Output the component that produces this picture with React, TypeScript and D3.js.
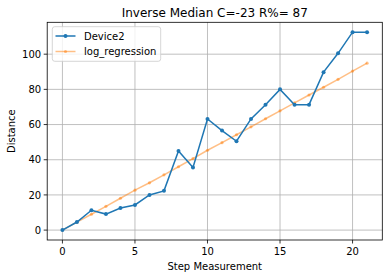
import React from "react";
import * as d3 from "d3";

const steps = [0, 1, 2, 3, 4, 5, 6, 7, 8, 9, 10, 11, 12, 13, 14, 15, 16, 17, 18, 19, 20, 21];
const device2 = [0, 4.6, 11.3, 9.1, 12.6, 14.3, 20, 22.3, 45, 35.6, 63.2, 56.6, 50.5, 63.2, 71.3, 80, 71.3, 71.3, 89.8, 100.5, 112.5, 112.5];
const logRegression = [0, 4.5, 9, 13.5, 18.1, 22.7, 26.9, 31.4, 36, 40.6, 45.4, 49.7, 54.2, 58.7, 63.3, 67.8, 72.3, 76.8, 81.2, 85.7, 90.4, 94.9];
const xTicks = [0, 5, 10, 15, 20];
const yTicks = [0, 20, 40, 60, 80, 100];
const seriesNames = ["Device2", "log_regression"];
const title = "Inverse Median C=-23 R%= 87";
const xLabel = "Step Measurement";
const yLabel = "Distance";

const W = 389, H = 278;
const L = 47.2, R = 382.3, T = 22.3, B = 240;
const font = "DejaVu Sans, sans-serif";

export default function App() {
  const xMin = d3.min(steps)!, xMax = d3.max(steps)!;
  const yMax = d3.max(device2.concat(logRegression))!, yMin = 0;
  const xPad = (xMax - xMin) * 0.05, yPad = (yMax - yMin) * 0.05;
  const x = d3.scaleLinear().domain([xMin - xPad, xMax + xPad]).range([L, R]);
  const y = d3.scaleLinear().domain([yMin - yPad, yMax + yPad]).range([B, T]);
  const line = d3.line<number>().x((_, i) => x(steps[i])).y((d) => y(d));
  const blue = "#1f77b4", orange = "#ff7f0e";
  return (
    <svg width={W} height={H} style={{ position: "absolute", left: 0, top: 0, background: "#fff" }} fontFamily={font}>
      <rect x={0} y={0} width={W} height={H} fill="#fff" />
      {xTicks.map((t) => (
        <line key={"gx" + t} x1={x(t)} x2={x(t)} y1={T} y2={B} stroke="#b0b0b0" strokeWidth={0.8} />
      ))}
      {yTicks.map((t) => (
        <line key={"gy" + t} x1={L} x2={R} y1={y(t)} y2={y(t)} stroke="#b0b0b0" strokeWidth={0.8} />
      ))}
      <path d={line(logRegression)!} fill="none" stroke={orange} strokeOpacity={0.5} strokeWidth={1.5} />
      {logRegression.map((v, i) => (
        <circle key={"o" + i} cx={x(steps[i])} cy={y(v)} r={1.6} fill={orange} fillOpacity={0.5} />
      ))}
      <path d={line(device2)!} fill="none" stroke={blue} strokeWidth={1.5} />
      {device2.map((v, i) => (
        <circle key={"b" + i} cx={x(steps[i])} cy={y(v)} r={2} fill={blue} />
      ))}
      <rect x={L} y={T} width={R - L} height={B - T} fill="none" stroke="#000" strokeWidth={0.8} />
      {xTicks.map((t) => (
        <g key={"xt" + t}>
          <line x1={x(t)} x2={x(t)} y1={B} y2={B + 3.5} stroke="#000" strokeWidth={0.8} />
          <text x={x(t)} y={B + 14.5} fontSize={10} textAnchor="middle" fill="#000">{t}</text>
        </g>
      ))}
      {yTicks.map((t) => (
        <g key={"yt" + t}>
          <line x1={L - 3.5} x2={L} y1={y(t)} y2={y(t)} stroke="#000" strokeWidth={0.8} />
          <text x={L - 6} y={y(t) + 3.6} fontSize={10} textAnchor="end" fill="#000">{t}</text>
        </g>
      ))}
      <text x={(L + R) / 2} y={17} fontSize={12} textAnchor="middle" fill="#000">{title}</text>
      <text x={(L + R) / 2} y={270} fontSize={10} textAnchor="middle" fill="#000">{xLabel}</text>
      <text transform={`translate(15,${(T + B) / 2}) rotate(-90)`} fontSize={10} textAnchor="middle" fill="#000">{yLabel}</text>
      <g>
        <rect x={52.3} y={26.7} width={108.4} height={34.6} rx={2.5} fill="#fff" fillOpacity={0.8} stroke="#cccccc" strokeWidth={0.8} />
        <line x1={55.5} x2={75.5} y1={36} y2={36} stroke={blue} strokeWidth={1.5} />
        <circle cx={65.5} cy={36} r={2} fill={blue} />
        <text x={84} y={39.6} fontSize={10} fill="#000">{seriesNames[0]}</text>
        <line x1={55.5} x2={75.5} y1={51.5} y2={51.5} stroke={orange} strokeOpacity={0.5} strokeWidth={1.5} />
        <circle cx={65.5} cy={51.5} r={1.6} fill={orange} fillOpacity={0.5} />
        <text x={84} y={55.1} fontSize={10} fill="#000">{seriesNames[1]}</text>
      </g>
    </svg>
  );
}
